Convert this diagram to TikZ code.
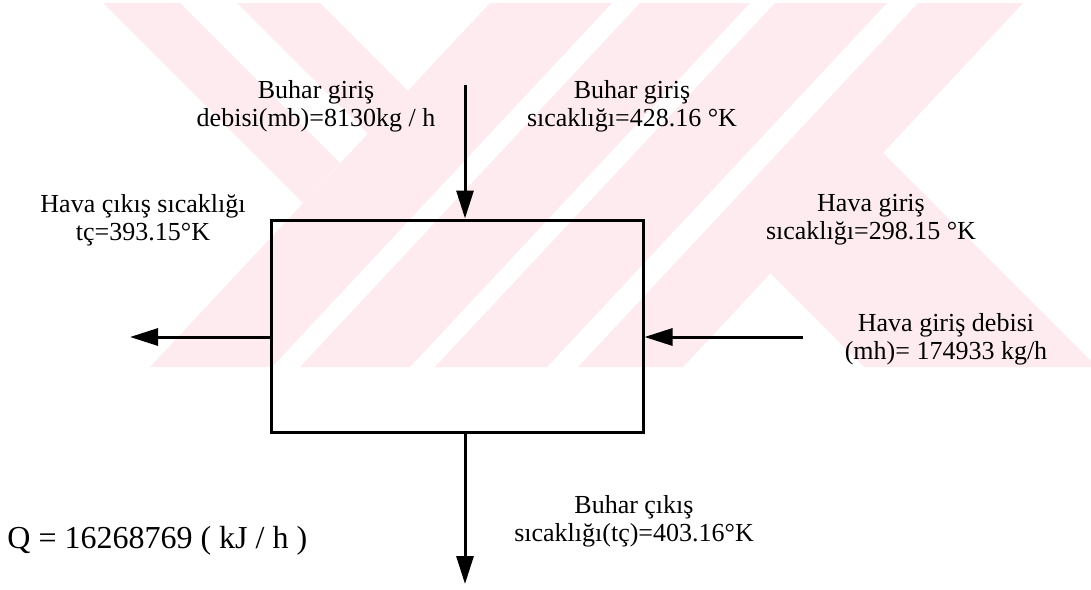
\documentclass[tikz,border=0pt]{standalone}
\usepackage{fontspec}
\setmainfont{Liberation Serif}
\usepackage{tikz}
\definecolor{Filigran}{RGB}{253,235,239}
\usetikzlibrary{calc, arrows.meta}

\begin{document}
\begin{tikzpicture}[
  x=0.5pt, y=-0.5pt,
  font=\fontsize{13}{14}\selectfont,
  kutu/.style={draw, line width=1.5pt, minimum width=186pt,
               minimum height=106pt, inner sep=0pt},
  etk/.style={align=center, inner sep=0pt},
  arr/.style={-{Triangle[length=14pt, width=8.5pt]}, line width=1.5pt},
  fil/.style={fill=Filigran}
]
\useasboundingbox (0,0) rectangle (1091,589);

% filigran (arka plan)
\fill[fil] (103,3) -- (180,3) -- (340,163) -- (303,203) -- cycle;
\fill[fil] (237,3) -- (320,3) -- (408,91) -- (368,134) -- cycle;
\fill[fil] (490,3) -- (612,3) -- (272,367) -- (150,367) -- cycle;
\fill[fil] (640,3) -- (750,3) -- (410,367) -- (300,367) -- cycle;
\fill[fil] (775,3) -- (887,3) -- (547,367) -- (435,367) -- cycle;
\fill[fil] (918,3) -- (1023,3) -- (683,367) -- (578,367) -- cycle;
\fill[fil] (883,153) -- (1091,361) -- (1091,367) -- (864,367) -- (770,273) -- cycle;

\node[kutu] (esanj) at (457,326) {};

\node[etk] (bgd) at (316,106) {Buhar giriş\\debisi(mb)=8130kg / h};
\node[etk] (bgs) at (632,106) {Buhar giriş\\sıcaklığı=428.16 °K};
\node[etk] (hcs) at (143,220) {Hava çıkış sıcaklığı\\tç=393.15°K};
\node[etk] (hgs) at (871,220) {Hava giriş\\sıcaklığı=298.15 °K};
\node[etk] (hgd) at (946,339) {Hava giriş debisi\\(mh)= 174933 kg/h};
\node[etk] (bcs) at (634,521) {Buhar çıkış\\sıcaklığı(tç)=403.16°K};
\node[anchor=base west, inner sep=0pt, font=\fontsize{16}{18}\selectfont]
  (isi) at (7,548) {Q = 16268769 ( kJ / h )};

\coordinate (bg) at (465,85);
\coordinate (bc) at (465,584);
\coordinate (hc) at (130,337);
\coordinate (hg) at (803,337);

\draw[arr] (bg) -- (bg |- esanj.north);
\draw[arr] (bc |- esanj.south) -- (bc);
\draw[arr] (hc -| esanj.west) -- (hc);
\draw[arr] (hg) -- (hg -| esanj.east);
\end{tikzpicture}
\end{document}
